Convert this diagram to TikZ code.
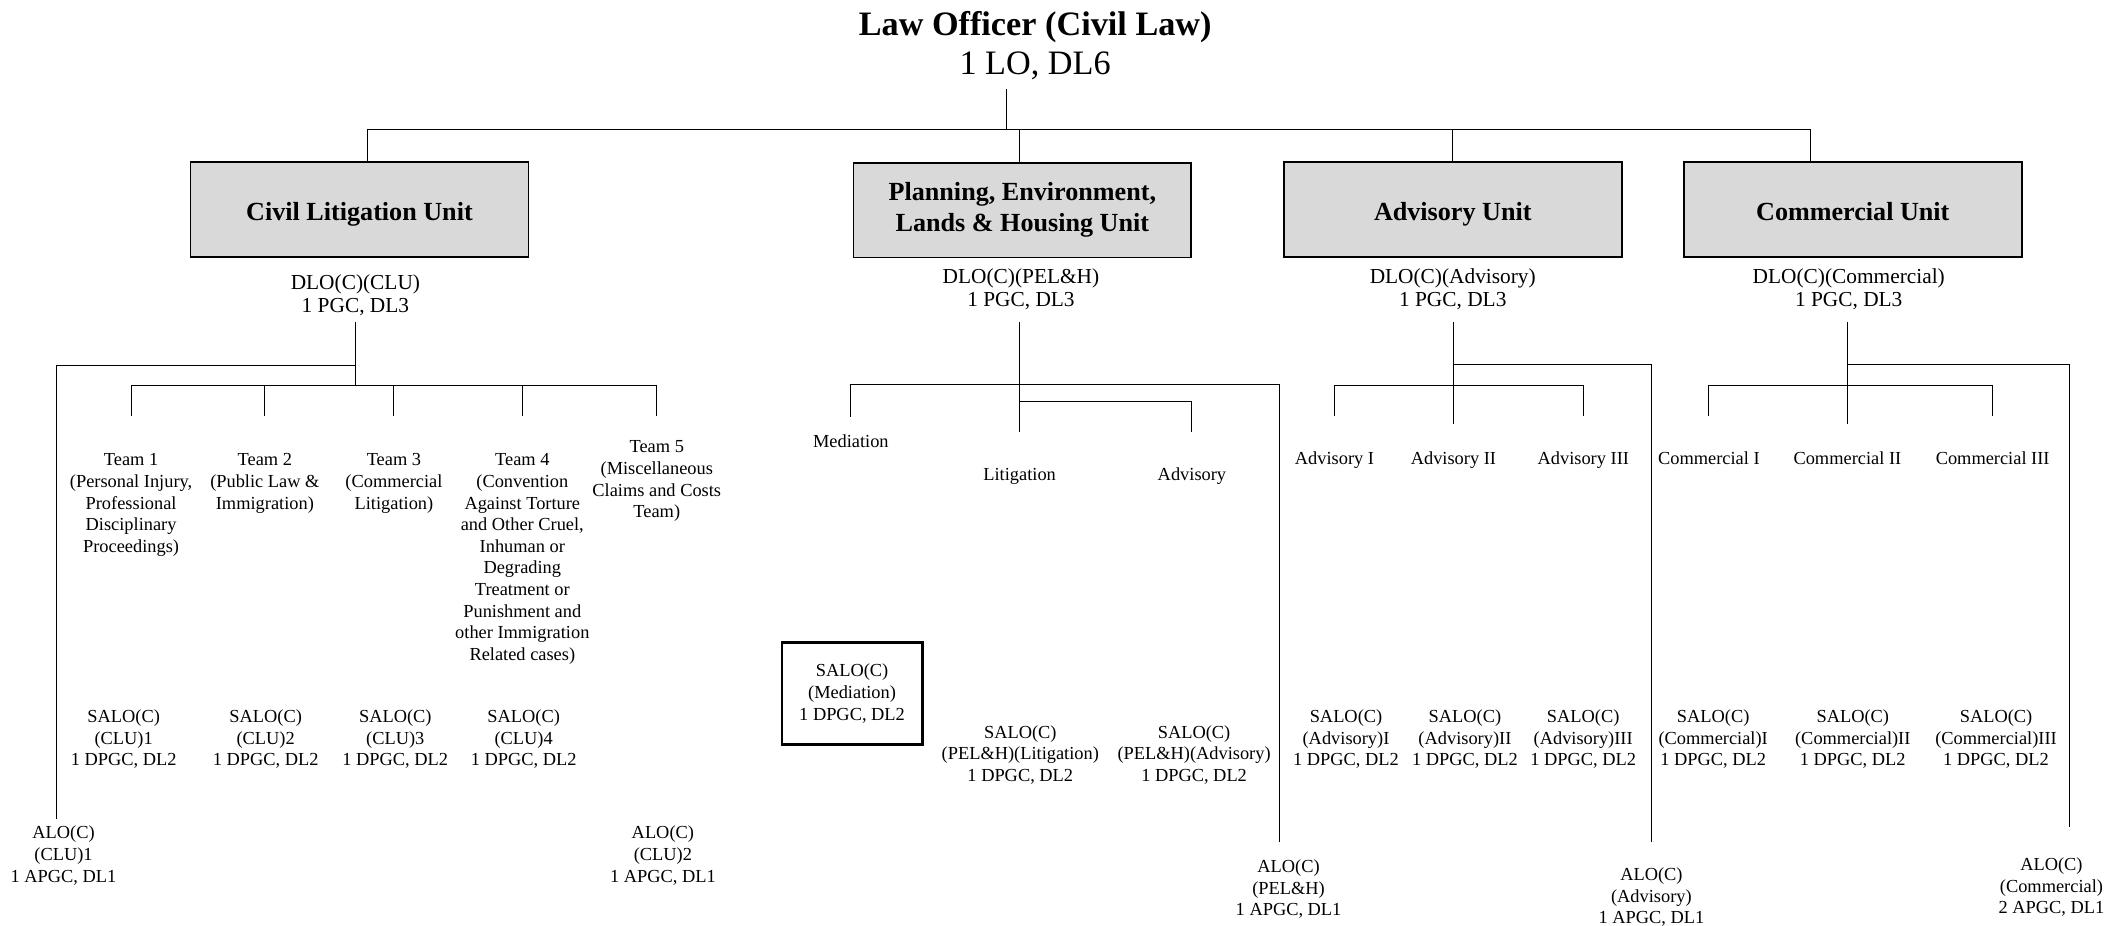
\documentclass[tikz,border=0pt]{standalone}
\usepackage{fontspec}
\setmainfont{Liberation Serif}
\usepackage{tikz}
\usetikzlibrary{positioning, calc}
\definecolor{unitgray}{HTML}{D9D9D9}

\begin{document}
\begin{tikzpicture}[x=0.75pt, y=-0.75pt,
  link/.style={line width=0.6pt},
  unit/.style={draw=black, fill=unitgray, line width=1pt, minimum width=187.5pt, minimum height=52.5pt, align=center, font=\fontsize{14.5}{17.2}\selectfont\bfseries},
  flat/.style={text height=12.8pt, text depth=0pt},
  head/.style={anchor=north, inner sep=0pt, align=center, font=\fontsize{11.85}{12.75}\selectfont},
  post/.style={anchor=north, inner sep=0pt, align=center, font=\fontsize{10.2}{12}\selectfont},
  salobox/.style={post, anchor=center, draw=black, line width=1.3pt, minimum width=78pt, minimum height=56.7pt}]

\useasboundingbox (0,0) rectangle (1568,685);

\node [anchor=north, inner sep=0pt, align=center, font=\fontsize{19}{21.7}\selectfont](lo) at (766,8) {\textbf{Law Officer (Civil Law)}\\1 LO, DL6};

\node [unit,flat](clu) at (266,155) {Civil Litigation Unit};
\node [unit](pelh) at (756.5,155.5) {Planning, Environment,\\Lands \& Housing Unit};
\node [unit,flat](adv) at (1075,155) {Advisory Unit};
\node [unit,flat](com) at (1371,155) {Commercial Unit};

\coordinate (lo stem) at (744.5,66);
\coordinate (lo bar) at (744.5,96);
\draw [link] (lo stem) -- (lo bar);
\draw [link] ([xshift=4.5pt]clu.north) |- (lo bar) -| ([xshift=-23.25pt]com.north);
\draw [link] ([xshift=-1.5pt]pelh.north) -- ([xshift=-1.5pt]pelh.north |- lo bar);
\draw [link] (adv.north) -- (adv.north |- lo bar);

\node [head](clu head) at (263,202.7) {DLO(C)(CLU)\\1 PGC, DL3};
\node [head](pelh head) at (755.5,198.8) {DLO(C)(PEL\&H)\\1 PGC, DL3};
\node [head](adv head) at (1075,198.8) {DLO(C)(Advisory)\\1 PGC, DL3};
\node [head](com head) at (1368,198.8) {DLO(C)(Commercial)\\1 PGC, DL3};

% Civil Litigation Unit
\node [post](team1) at (97,335.5) {Team 1\\(Personal Injury,\\Professional\\Disciplinary\\Proceedings)};
\node [post](team2) at (196,335.5) {Team 2\\(Public Law \&\\Immigration)};
\node [post](team3) at (291.5,335.5) {Team 3\\(Commercial\\Litigation)};
\node [post](team4) at (386.5,335.5) {Team 4\\(Convention\\Against Torture\\and Other Cruel,\\Inhuman or\\Degrading\\Treatment or\\Punishment and\\other Immigration\\Related cases)};
\node [post](team5) at (486,326) {Team 5\\(Miscellaneous\\Claims and Costs\\Team)};

\node [post](clu salo1) at (91.5,525) {SALO(C)\\(CLU)1\\1 DPGC, DL2};
\node [post](clu salo2) at (196.6,525) {SALO(C)\\(CLU)2\\1 DPGC, DL2};
\node [post](clu salo3) at (292.5,525) {SALO(C)\\(CLU)3\\1 DPGC, DL2};
\node [post](clu salo4) at (387.5,525) {SALO(C)\\(CLU)4\\1 DPGC, DL2};
\node [post](clu alo1) at (47,611) {ALO(C)\\(CLU)1\\1 APGC, DL1};
\node [post](clu alo2) at (490.5,611) {ALO(C)\\(CLU)2\\1 APGC, DL1};

\coordinate (clu top) at (263,238.5);
\coordinate (clu alo bar) at (263,270.6);
\coordinate (clu bar) at (263,285);
\draw [link] (clu top) -- (clu bar);
\draw [link] (team1.north |- clu bar) -- (team5.north |- clu bar);
\foreach \t in {1,...,5} \draw [link] (team\t.north |- clu bar) -- ++(0,23);
\draw [link] (clu alo bar) -| ([shift={(-3.75pt,3.75pt)}]clu alo1.north);

% Planning, Environment, Lands & Housing Unit
\node [post](pelh med) at (629.6,321.4) {Mediation};
\node [post](pelh lit) at (754.5,346) {Litigation};
\node [post](pelh advl) at (882,346) {Advisory};

\node [salobox](pelh salo med) at (630.5,513.2) {SALO(C)\\(Mediation)\\1 DPGC, DL2};
\node [post](pelh salo lit) at (755,536.5) {SALO(C)\\(PEL\&H)(Litigation)\\1 DPGC, DL2};
\node [post](pelh salo adv) at (883.6,536.5) {SALO(C)\\(PEL\&H)(Advisory)\\1 DPGC, DL2};
\node [post](pelh alo) at (953.5,636) {ALO(C)\\(PEL\&H)\\1 APGC, DL1};

\coordinate (pelh top) at (754.5,238.5);
\coordinate (pelh bar) at (754.5,284.4);
\coordinate (pelh sub) at (754.5,296.8);
\draw [link] (pelh top) -- ([yshift=19.5pt]pelh lit.north);
\draw [link] ([yshift=9.75pt]pelh med.north) |- (pelh bar) -| ([shift={(-5.1pt,9.75pt)}]pelh alo.north);
\draw [link] (pelh sub) -| ([yshift=19.5pt]pelh advl.north);

% Advisory Unit
\node [post](adv team1) at (987.5,334) {Advisory I};
\node [post](adv team2) at (1075.5,334) {Advisory II};
\node [post](adv team3) at (1171.6,334) {Advisory III};

\node [post](adv salo1) at (996,525) {SALO(C)\\(Advisory)I\\1 DPGC, DL2};
\node [post](adv salo2) at (1084,525) {SALO(C)\\(Advisory)II\\1 DPGC, DL2};
\node [post](adv salo3) at (1171.5,525) {SALO(C)\\(Advisory)III\\1 DPGC, DL2};
\node [post](adv alo) at (1222,642) {ALO(C)\\(Advisory)\\1 APGC, DL1};

\coordinate (adv top) at (1075.5,238.5);
\coordinate (adv alo bar) at (1075.5,270);
\coordinate (adv bar) at (1075.5,285);
\draw [link] (adv top) -- ([yshift=15pt]adv team2.north);
\draw [link] ([yshift=19.5pt]adv team1.north) |- (adv bar) -| ([yshift=19.5pt]adv team3.north);
\draw [link] (adv alo bar) -| ([yshift=14.25pt]adv alo.north);

% Commercial Unit
\node [post](com team1) at (1264.5,334) {Commercial I};
\node [post](com team2) at (1367,334) {Commercial II};
\node [post](com team3) at (1474.5,334) {Commercial III};

\node [post](com salo1) at (1267.7,525) {SALO(C)\\(Commercial)I\\1 DPGC, DL2};
\node [post](com salo2) at (1371,525) {SALO(C)\\(Commercial)II\\1 DPGC, DL2};
\node [post](com salo3) at (1477,525) {SALO(C)\\(Commercial)III\\1 DPGC, DL2};
\node [post](com alo) at (1518,634.6) {ALO(C)\\(Commercial)\\2 APGC, DL1};

\coordinate (com top) at (1367,238.5);
\coordinate (com alo bar) at (1367,270);
\coordinate (com bar) at (1367,285);
\draw [link] (com top) -- ([yshift=15pt]com team2.north);
\draw [link] ([yshift=19.5pt]com team1.north) |- (com bar) -| ([yshift=19.5pt]com team3.north);
\draw [link] (com alo bar) -| ([shift={(10pt,17pt)}]com alo.north);
\end{tikzpicture}
\end{document}
